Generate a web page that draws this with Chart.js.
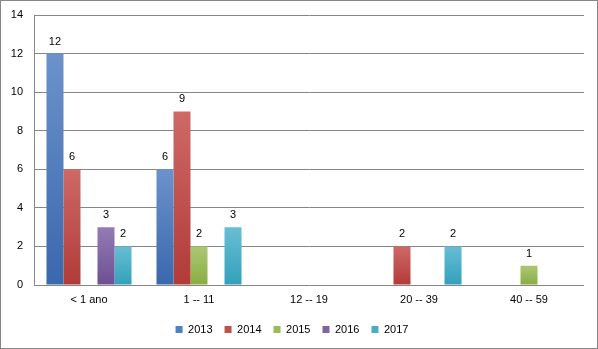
<!DOCTYPE html>
<html lang="pt">
<head>
    <meta charset="UTF-8">
    <title>Idades por ano</title>
    <style>
        body { margin: 0; padding: 0; background: #ffffff; }
        #wrap { width: 598px; height: 349px; }
    </style>
    <script src="https://cdn.jsdelivr.net/npm/chart.js"></script>
</head>
<body>
    <div id="wrap"><canvas id="ageChart" width="598" height="349"></canvas></div>

    <script>
        // Data
        const categories = ['< 1 ano', '1 -- 11', '12 -- 19', '20 -- 39', '40 -- 59'];
        const years = ['2013', '2014', '2015', '2016', '2017'];
        const values2013 = [12, 6, null, null, null];
        const values2014 = [6, 9, null, 2, null];
        const values2015 = [null, 2, null, null, 1];
        const values2016 = [3, null, null, null, null];
        const values2017 = [2, 3, null, 2, null];
        const yTicks = [0, 2, 4, 6, 8, 10, 12, 14];

        const allValues = [values2013, values2014, values2015, values2016, values2017];

        // base, light (top), dark (bottom)
        const palette = [
            ['#4F81BD', '#6B92CB', '#3A68AC'],
            ['#C0504D', '#CE6966', '#B13B38'],
            ['#9BBB59', '#ABC873', '#88AD42'],
            ['#8064A2', '#937CB5', '#6D4F92'],
            ['#4BACC6', '#67BED4', '#33A0BA']
        ];

        function barGradient(i) {
            return function (context) {
                const chart = context.chart;
                const area = chart.chartArea;
                if (!area || context.raw == null) return palette[i][0];
                const top = chart.scales.y.getPixelForValue(context.raw);
                const bottom = chart.scales.y.getPixelForValue(0);
                if (!isFinite(top) || bottom - top < 1) return palette[i][0];
                const g = chart.ctx.createLinearGradient(0, top, 0, bottom);
                g.addColorStop(0, palette[i][1]);
                g.addColorStop(1, palette[i][2]);
                return g;
            };
        }

        const datasets = years.map((y, i) => ({
            label: y,
            data: allValues[i],
            backgroundColor: barGradient(i),
            borderWidth: 0,
            categoryPercentage: 0.773,
            barPercentage: 1.0
        }));

        const valueLabels = {
            id: 'valueLabels',
            afterDatasetsDraw(chart) {
                const ctx = chart.ctx;
                ctx.save();
                ctx.font = '11px "Liberation Sans", Arial, sans-serif';
                ctx.fillStyle = '#000000';
                ctx.textAlign = 'center';
                ctx.textBaseline = 'middle';
                chart.data.datasets.forEach((ds, i) => {
                    const meta = chart.getDatasetMeta(i);
                    meta.data.forEach((bar, j) => {
                        const v = ds.data[j];
                        if (v == null) return;
                        ctx.fillText(String(v), bar.x, bar.y - 12);
                    });
                });
                ctx.restore();
            }
        };

        const outerBorder = {
            id: 'outerBorder',
            afterDraw(chart) {
                const ctx = chart.ctx;
                ctx.save();
                ctx.strokeStyle = '#868686';
                ctx.lineWidth = 1;
                ctx.strokeRect(0.5, 0.5, chart.width - 1, chart.height - 1);
                ctx.restore();
            }
        };

        const ctx = document.getElementById('ageChart').getContext('2d');
        const ageChart = new Chart(ctx, {
            type: 'bar',
            data: { labels: categories, datasets: datasets },
            plugins: [valueLabels, outerBorder],
            options: {
                responsive: false,
                animation: false,
                layout: { padding: { top: 15, right: 14, left: 0, bottom: 4 } },
                plugins: {
                    tooltip: { enabled: false },
                    legend: {
                        position: 'bottom',
                        labels: {
                            boxWidth: 7,
                            boxHeight: 7,
                            padding: 12,
                            color: '#000000',
                            font: { family: '"Liberation Sans", Arial, sans-serif', size: 11 },
                            generateLabels(chart) {
                                return chart.data.datasets.map((ds, i) => ({
                                    text: ds.label,
                                    fillStyle: palette[i][0],
                                    strokeStyle: palette[i][0],
                                    lineWidth: 0,
                                    hidden: false,
                                    datasetIndex: i
                                }));
                            }
                        }
                    }
                },
                scales: {
                    x: {
                        grid: { display: false, drawTicks: false },
                        border: { display: false },
                        ticks: {
                            color: '#000000',
                            padding: 8,
                            maxRotation: 0,
                            font: { family: '"Liberation Sans", Arial, sans-serif', size: 11 }
                        },
                        afterFit(scale) { scale.height = 27; }
                    },
                    y: {
                        min: 0,
                        max: 14,
                        afterBuildTicks(scale) {
                            scale.ticks = yTicks.map(v => ({ value: v }));
                        },
                        grid: { color: '#868686', drawTicks: false },
                        border: { display: true, color: '#868686' },
                        ticks: {
                            color: '#000000',
                            padding: 11,
                            font: { family: '"Liberation Sans", Arial, sans-serif', size: 11 }
                        },
                        afterFit(scale) {
                            scale.width = 34;
                            scale.paddingTop = 0;
                            scale.paddingBottom = 0;
                        }
                    }
                }
            }
        });
    </script>
</body>
</html>
